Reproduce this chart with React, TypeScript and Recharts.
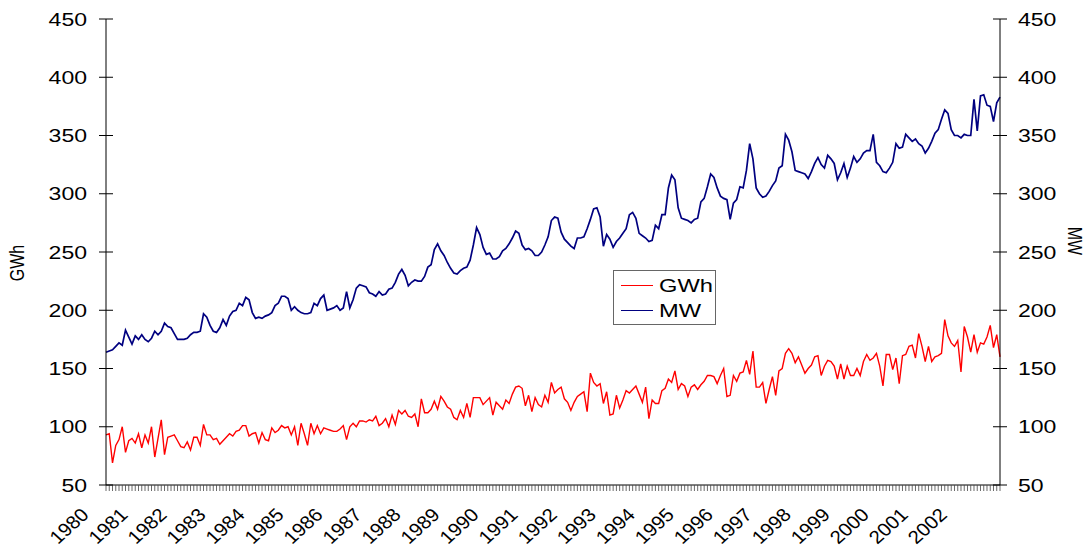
import React from 'react';
import { LineChart, Line, XAxis, YAxis } from 'recharts';

const years = ['1980', '1981', '1982', '1983', '1984', '1985', '1986', '1987', '1988', '1989', '1990', '1991',
  '1992', '1993', '1994', '1995', '1996', '1997', '1998', '1999', '2000', '2001', '2002'];

const yTicks = [50, 100, 150, 200, 250, 300, 350, 400, 450];

const seriesInfo = [
  { key: 'gwh', name: 'GWh', color: '#ff0000' },
  { key: 'mw', name: 'MW', color: '#000080' },
];

// monthly energy, one row per year
const gwh = [
  93, 94, 69, 84, 89, 100, 78, 88, 90, 86, 94, 82,
  93, 86, 100, 74, 90, 106, 76, 91, 92, 93, 88, 83,
  82, 87, 80, 91, 91, 84, 102, 93, 93, 89, 90, 85,
  88, 91, 94, 92, 96, 97, 101, 101, 92, 94, 95, 86,
  95, 89, 88, 99, 95, 97, 101, 99, 100, 93, 100, 84,
  103, 94, 84, 103, 94, 101, 94, 99, 98, 97, 96, 96,
  98, 101, 89, 100, 103, 100, 105, 105, 104, 106, 105, 109,
  101, 103, 107, 100, 110, 102, 114, 111, 114, 109, 108, 111,
  100, 124, 112, 112, 115, 122, 115, 126, 122, 117, 115, 108,
  106, 114, 108, 120, 108, 125, 125, 125, 119, 122, 125, 110,
  121, 118, 115, 123, 120, 128, 134, 135, 133, 118, 127, 113,
  125, 119, 117, 127, 121, 138, 129, 132, 134, 124, 121, 114,
  121, 126, 128, 130, 113, 146, 138, 135, 137, 120, 130, 110,
  111, 127, 116, 123, 131, 129, 132, 135, 128, 121, 134, 107,
  123, 120, 120, 131, 133, 141, 138, 148, 132, 137, 135, 126,
  134, 136, 132, 136, 139, 144, 144, 143, 137, 144, 150, 126,
  127, 144, 139, 146, 147, 157, 145, 165, 134, 134, 138, 120,
  132, 143, 127, 148, 150, 163, 167, 163, 155, 160, 153, 146,
  150, 153, 160, 161, 144, 152, 157, 156, 152, 141, 154, 141,
  152, 144, 144, 150, 144, 156, 162, 157, 159, 163, 152, 135,
  162, 162, 149, 159, 137, 161, 162, 169, 170, 159, 180, 169,
  156, 169, 156, 160, 161, 163, 192, 178, 172, 169, 174, 147,
  186, 177, 164, 179, 164, 172, 171, 177, 187, 168, 179, 160,
];

// monthly demand, one row per year
const mw = [
  164, 165, 166, 169, 172, 170, 183, 177, 171, 178, 175, 179,
  175, 173, 176, 182, 179, 182, 189, 186, 185, 180, 175, 175,
  175, 176, 179, 181, 181, 182, 197, 194, 187, 182, 181, 185,
  192, 187, 195, 199, 200, 206, 204, 211, 209, 198, 193, 194,
  193, 195, 196, 198, 204, 206, 212, 212, 210, 200, 203, 200,
  198, 197, 197, 198, 206, 204, 210, 213, 200, 201, 202, 204,
  200, 202, 216, 202, 209, 219, 222, 221, 220, 215, 214, 212,
  216, 213, 214, 218, 219, 224, 231, 235, 230, 221, 224, 226,
  225, 225, 229, 237, 239, 252, 257, 251, 247, 241, 236, 232,
  231, 234, 236, 237, 243, 256, 271, 265, 254, 248, 249, 244,
  244, 246, 251, 253, 257, 262, 268, 266, 256, 252, 253, 251,
  247, 247, 250, 256, 263, 277, 280, 279, 267, 261, 258, 255,
  253, 262, 262, 263, 270, 278, 287, 288, 280, 255, 265, 261,
  254, 259, 262, 266, 270, 282, 284, 279, 266, 264, 262, 259,
  260, 273, 270, 282, 282, 305, 316, 312, 288, 279, 278, 277,
  275, 278, 279, 293, 296, 306, 317, 314, 305, 298, 296, 295,
  278, 292, 295, 306, 305, 320, 343, 330, 305, 300, 297, 298,
  302, 307, 311, 322, 324, 351, 346, 336, 320, 319, 318, 317,
  313, 319, 326, 331, 325, 322, 333, 330, 326, 312, 318, 326,
  314, 322, 332, 327, 330, 335, 337, 337, 351, 327, 324, 319,
  318, 322, 327, 343, 339, 340, 351, 348, 345, 347, 343, 341,
  335, 339, 345, 352, 355, 364, 372, 369, 355, 350, 350, 348,
  351, 350, 350, 381, 354, 384, 385, 376, 375, 362, 378, 383,
];

const chartData = gwh.map((v, i) => ({
  period: `${years[Math.floor(i / 12)]}-${(i % 12) + 1}`,
  gwh: v,
  mw: mw[i],
}));

const FONT = '"Liberation Sans", Arial, sans-serif';
// the original picture is a bit wider than tall, so type looks stretched
const SX = 1.28;

const LeftTick = ({ x, y, payload }: any) => (
  <g>
    <line x1={x - 7} x2={x + 7} y1={y} y2={y} stroke="#000" />
    <text
      transform={`translate(${x - 19}, ${y}) scale(${SX}, 1)`}
      textAnchor="end"
      dominantBaseline="central"
      fontSize={18}
      fill="#000"
      fontFamily={FONT}
    >
      {payload.value}
    </text>
  </g>
);

const RightTick = ({ x, y, payload }: any) => (
  <g>
    <line x1={x - 7} x2={x + 7} y1={y} y2={y} stroke="#000" />
    <text
      transform={`translate(${x + 18}, ${y}) scale(${SX}, 1)`}
      textAnchor="start"
      dominantBaseline="central"
      fontSize={18}
      fill="#000"
      fontFamily={FONT}
    >
      {payload.value}
    </text>
  </g>
);

const MonthTick = ({ x, y, index }: any) => {
  const isYear = index % 12 === 0;
  return (
    <g>
      <line x1={x} x2={x} y1={y} y2={y + 6} stroke="#444" strokeWidth={0.8} />
      {isYear && (
        <text
          transform={`translate(${x - 16}, ${y + 31}) scale(1.1, 1) rotate(-45)`}
          textAnchor="end"
          fontSize={18.5}
          fill="#000"
          fontFamily={FONT}
        >
          {years[index / 12]}
        </text>
      )}
    </g>
  );
};

const GwhTitle = () => (
  <text
    transform={`translate(24, 263) scale(${SX}, 1) rotate(-90)`}
    textAnchor="middle"
    fontSize={16}
    fill="#000"
    fontFamily={FONT}
  >
    GWh
  </text>
);

const MwTitle = () => (
  <text
    transform={`translate(1068, 241) scale(${SX}, 1) rotate(90)`}
    textAnchor="middle"
    fontSize={16}
    fill="#000"
    fontFamily={FONT}
  >
    MW
  </text>
);

const LegendBox = () => (
  <div
    style={{
      position: 'absolute',
      left: 613,
      top: 270,
      border: '1px solid #666',
      background: '#fff',
      width: 103,
      height: 55,
      boxSizing: 'border-box',
      fontFamily: FONT,
      fontSize: 18.5,
      padding: '2px 0 0 7px',
    }}
  >
    {seriesInfo.map((it) => (
      <div key={it.key} style={{ display: 'flex', alignItems: 'center', height: 25 }}>
        <span style={{ display: 'inline-block', width: 32, borderTop: `1px solid ${it.color}`, marginRight: 6 }} />
        <span style={{ display: 'inline-block', transform: `scale(${SX}, 1)`, transformOrigin: 'left center' }}>{it.name}</span>
      </div>
    ))}
  </div>
);

export default function App() {
  return (
    <div style={{ position: 'absolute', left: 0, top: 0, width: 1087, height: 551, background: '#fff' }}>
      <LineChart width={1087} height={551} data={chartData} margin={{ top: 19, right: 0, bottom: 0, left: 0 }}>
        <XAxis
          dataKey="period"
          interval={0}
          height={66}
          tickSize={0}
          tickMargin={0}
          tick={<MonthTick />}
          axisLine={{ stroke: '#000' }}
          tickLine={false}
        />
        <YAxis
          yAxisId="left"
          width={106}
          domain={[50, 450]}
          ticks={yTicks}
          tickSize={0}
          tickMargin={0}
          tick={<LeftTick />}
          tickLine={false}
          axisLine={{ stroke: '#000' }}
          label={<GwhTitle />}
        />
        <YAxis
          yAxisId="right"
          orientation="right"
          width={87}
          domain={[50, 450]}
          ticks={yTicks}
          tickSize={0}
          tickMargin={0}
          tick={<RightTick />}
          tickLine={false}
          axisLine={{ stroke: '#000' }}
          label={<MwTitle />}
        />
        <Line yAxisId="left" type="linear" dataKey="gwh" name="GWh" stroke="#ff0000" strokeWidth={1.4} dot={false} isAnimationActive={false} />
        <Line yAxisId="right" type="linear" dataKey="mw" name="MW" stroke="#000080" strokeWidth={1.7} dot={false} isAnimationActive={false} />
      </LineChart>
      <LegendBox />
    </div>
  );
}
